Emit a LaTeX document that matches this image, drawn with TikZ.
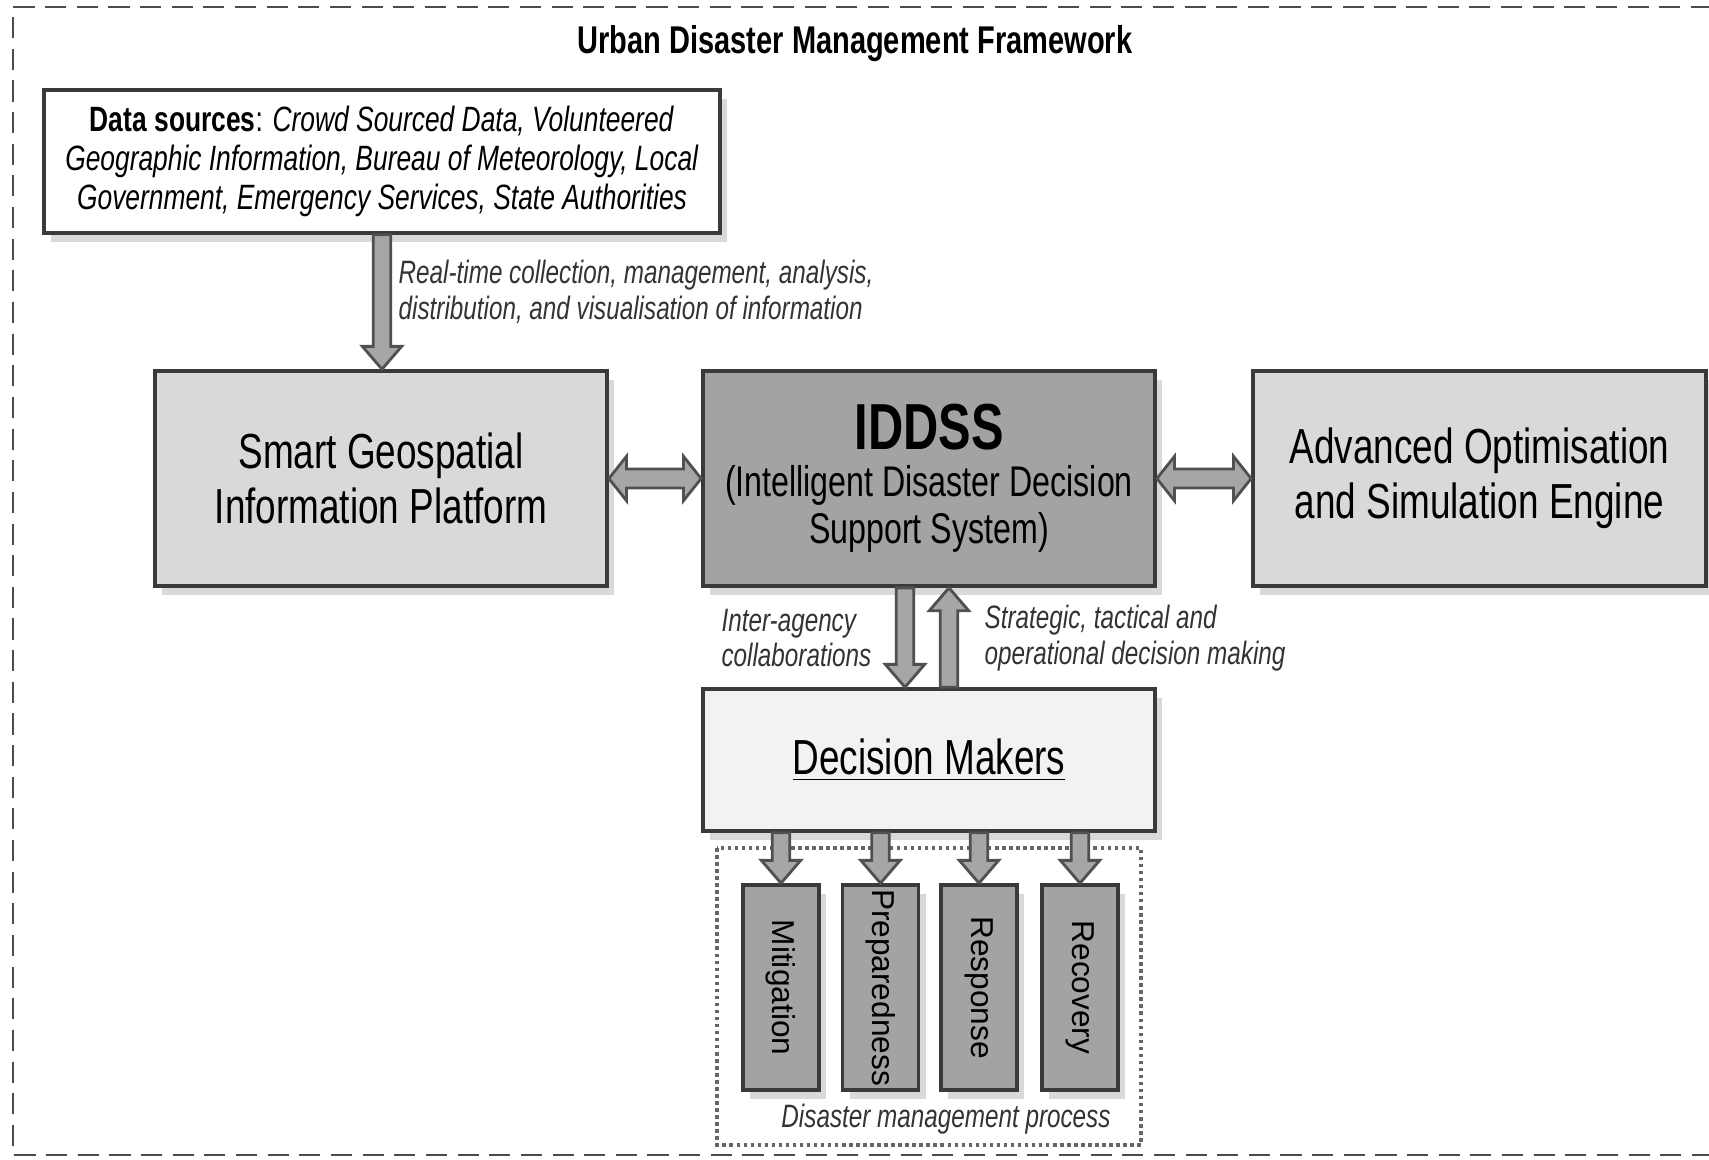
\documentclass[tikz,border=0pt]{standalone}
\usepackage{fontspec}
\setmainfont[FakeStretch=0.75]{Liberation Sans}
\newfontfamily\plainsf{Liberation Sans}
\usetikzlibrary{calc,shadows}
\definecolor{boxlight}{HTML}{D9D9D9}
\definecolor{boxdark}{HTML}{A3A3A3}
\definecolor{boxpale}{HTML}{F2F2F2}
\definecolor{edge}{HTML}{3A3A3A}
\definecolor{arrfill}{HTML}{A6A6A6}
\definecolor{arredge}{HTML}{505050}
\newcommand{\fatarrow}[2]{%
  \draw[fatarr] let \p1=(#1), \p2=(#2), \n1={sign(\y2-\y1)} in
    ({\x1-2.5pt},\y1) -- ({\x1-2.5pt},{\y2-(\n1)*6.5pt}) -- ({\x1-5.6pt},{\y2-(\n1)*6.5pt}) -- (\x1,\y2)
    -- ({\x1+5.6pt},{\y2-(\n1)*6.5pt}) -- ({\x1+2.5pt},{\y2-(\n1)*6.5pt}) -- ({\x1+2.5pt},\y1) -- cycle;}
\newcommand{\fatdarrow}[2]{%
  \draw[fatarr] let \p1=(#1), \p2=(#2) in
    (\x1,\y1) -- ({\x1+5pt},{\y1+6.3pt}) -- ({\x1+5pt},{\y1+2.7pt}) -- ({\x2-5pt},{\y1+2.7pt})
    -- ({\x2-5pt},{\y1+6.3pt}) -- (\x2,\y1) -- ({\x2-5pt},{\y1-6.3pt}) -- ({\x2-5pt},{\y1-2.7pt})
    -- ({\x1+5pt},{\y1-2.7pt}) -- ({\x1+5pt},{\y1-6.3pt}) -- cycle;}
\begin{document}
\begin{tikzpicture}[x=0.01cm,y=-0.01cm,
    box/.style={draw=edge,line width=1pt,align=center,
      drop shadow={shadow xshift=2pt,shadow yshift=-2.5pt,opacity=0.3},
      minimum width=4.52cm,minimum height=2.15cm,font=\fontsize{14}{15.5}\selectfont},
    phase/.style={draw=edge,line width=1pt,fill=boxdark,inner sep=0pt,
      drop shadow={shadow xshift=2pt,shadow yshift=-2.5pt,opacity=0.3},
      minimum width=0.76cm,minimum height=2.05cm,font=\plainsf\fontsize{9}{10}\selectfont},
    note/.style={font=\fontsize{9.2}{10.2}\selectfont\itshape,text=black!80,align=left,inner sep=0pt},
    fatarr/.style={draw=arredge,fill=arrfill,line width=0.8pt}]
  \useasboundingbox (0,0) rectangle (1709,1159);
  \draw[draw=black!70,line width=0.8pt,dash pattern=on 6pt off 3pt]
    (1712,7) -- (13,7) -- (13,1155) -- (1712,1155);
  \node (title) at (855,44) {\fontsize{11}{13}\selectfont\bfseries Urban Disaster Management Framework};
  \node[box,fill=white,minimum width=6.76cm,minimum height=1.43cm,font=\fontsize{10}{11}\selectfont]
    (data) at (382,161.5) {{\bfseries Data sources}: \textit{Crowd Sourced Data, Volunteered}\\
      \textit{Geographic Information, Bureau of Meteorology, Local}\\
      \textit{Government, Emergency Services, State Authorities}};
  \node[box,fill=boxlight] (sgip) at (381,478.5) {Smart Geospatial\\Information Platform};
  \node[box,fill=boxdark,font=\fontsize{12.2}{13.4}\selectfont] (iddss) at (929,478.5)
    {{\fontsize{18.5}{23}\selectfont\bfseries IDDSS}\\(Intelligent Disaster Decision\\Support System)};
  \node[box,fill=boxlight,minimum width=4.53cm] (aose) at (1479.5,478.5)
    {Advanced Optimisation\\and Simulation Engine};
  \node[box,fill=boxpale,minimum height=1.42cm] (dm) at (929,760) {\underline{Decision Makers}};
  \draw[draw=black!60,line width=1pt,densely dotted] (717,848) rectangle (1141,1145);
  \node[phase] (mit) at (781,987.5) {\rotatebox{-90}{Mitigation}};
  \node[phase] (prep) at (880.5,987.5) {\rotatebox{-90}{Preparedness}};
  \node[phase] (resp) at (979,987.5) {\rotatebox{-90}{Response}};
  \node[phase] (rec) at (1080,987.5) {\rotatebox{-90}{Recovery}};
  \node[note,align=center] (dmp) at (946,1119) {Disaster management process};
  \node[note,anchor=west] (rtl) at (398,292)
    {Real-time collection, management, analysis,\\distribution, and visualisation of information};
  \node[note,anchor=east] (ial) at (872,638) {Inter-agency\\collaborations};
  \node[note,anchor=west] (stl) at (984,638) {Strategic, tactical and\\operational decision making};
  \fatarrow{data.south}{sgip.north}
  \fatdarrow{sgip.east}{iddss.west}
  \fatdarrow{iddss.east}{aose.west}
  \fatarrow{$(iddss.south)+(-24,0)$}{$(dm.north)+(-24,0)$}
  \fatarrow{$(dm.north)+(20,0)$}{$(iddss.south)+(20,0)$}
  \foreach \b in {mit,prep,resp,rec}
    \fatarrow{dm.south -| \b.north}{\b.north};
\end{tikzpicture}
\end{document}
